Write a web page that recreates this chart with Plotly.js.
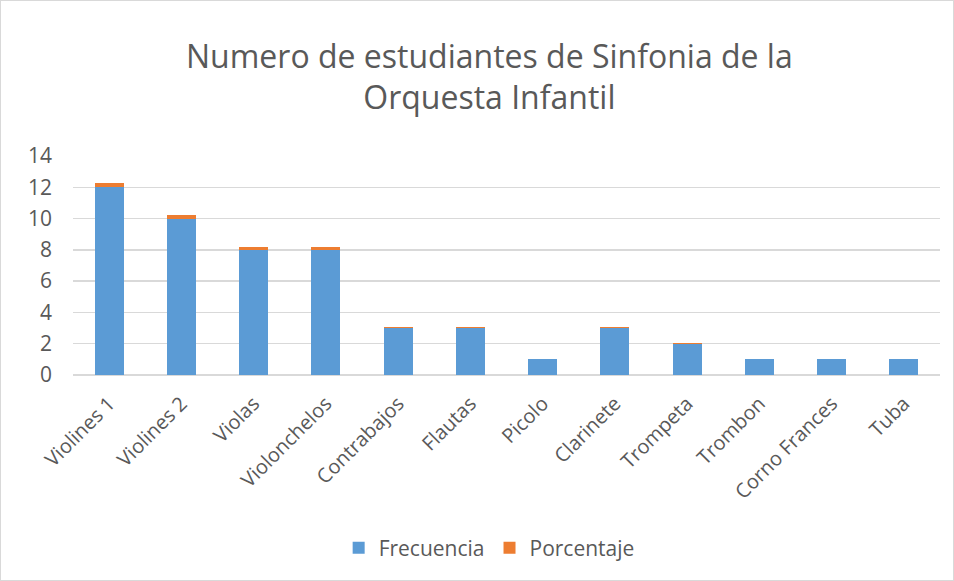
<!DOCTYPE html>
<html>
<head>
<meta charset="utf-8">
<script src="https://cdn.plot.ly/plotly-3.0.1.min.js"></script>
<style>
html,body{margin:0;padding:0;background:#fff;}
#chart{width:952px;height:579px;border:1px solid #d9d9d9;}
</style>
</head>
<body>
<div id="chart"></div>
<script>
const categories = ["Violines 1","Violines 2","Violas","Violonchelos","Contrabajos","Flautas","Picolo","Clarinete","Trompeta","Trombon","Corno Frances","Tuba"];
const frecuencia = [12,10,8,8,3,3,1,3,2,1,1,1];
const porcentaje = [0.27,0.23,0.18,0.18,0.07,0.07,0.02,0.07,0.05,0.02,0.02,0.02];
const yTicks = [0,2,4,6,8,10,12,14];

const fontFam = "Open Sans, Noto Sans, sans-serif";
const data = [
  {type:"bar", name:"Frecuencia", x:categories, y:frecuencia, marker:{color:"#5b9bd5"}, hoverinfo:"skip"},
  {type:"bar", name:"Porcentaje", x:categories, y:porcentaje, marker:{color:"#ed7d31"}, hoverinfo:"skip"}
];
const layout = {
  width:952, height:579,
  barmode:"stack",
  bargap:0.6,
  margin:{l:72, r:13, t:155, b:205},
  paper_bgcolor:"#fff", plot_bgcolor:"#fff",
  font:{family:fontFam, color:"#595959"},
  title:{text:"Numero de estudiantes de Sinfonia de la<br>Orquesta Infantil", font:{size:32, color:"#595959", family:fontFam}, x:0.513, xanchor:"center", y:0.885, yanchor:"middle"},
  xaxis:{tickangle:-45, tickfont:{size:20, color:"#595959"}, showline:false, ticks:"", showgrid:false, ticklabelstandoff:12},
  yaxis:{range:[0,14], tickvals:yTicks, tickfont:{size:21, color:"#595959"}, gridcolor:"#d9d9d9", gridwidth:1.3, zeroline:true, zerolinecolor:"#d9d9d9", zerolinewidth:1.3, ticks:"", showline:false, ticklabelstandoff:20},
  showlegend:true,
  legend:{orientation:"h", x:0.48, xanchor:"center", y:-0.79, yanchor:"middle", font:{size:21, color:"#595959"}, traceorder:"normal", itemwidth:30}
};
Plotly.newPlot("chart", data, layout, {displayModeBar:false, staticPlot:true});
</script>
</body>
</html>
